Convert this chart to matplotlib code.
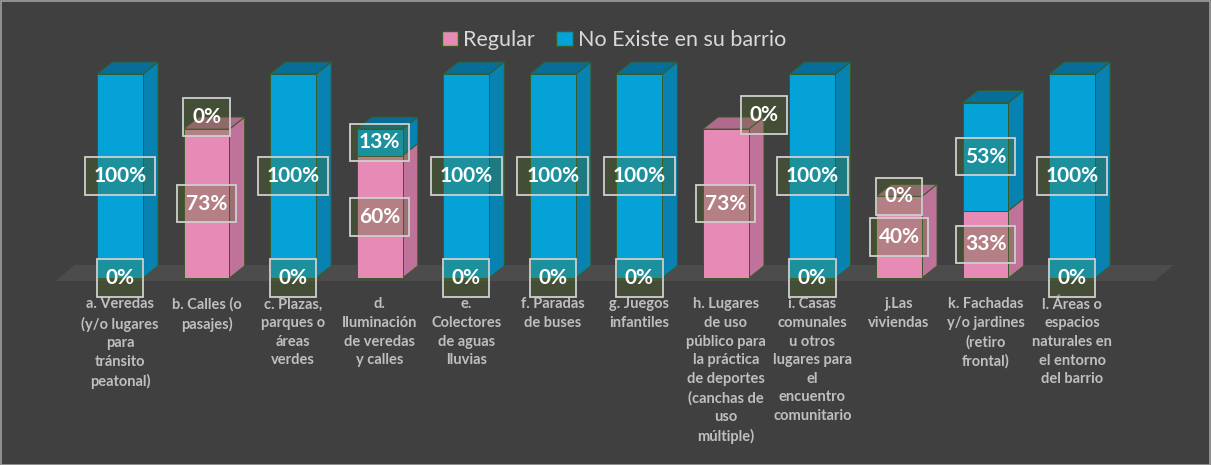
import matplotlib.pyplot as plt
from matplotlib.patches import Polygon, Rectangle, Patch

plt.rcParams['font.family'] = ['Lato', 'DejaVu Sans']

categories = [
    "a. Veredas\n(y/o lugares\npara\ntránsito\npeatonal)",
    "b. Calles (o\npasajes)",
    "c. Plazas,\nparques o\náreas\nverdes",
    "d.\nIluminación\nde veredas\ny calles",
    "e.\nColectores\nde aguas\nlluvias",
    "f. Paradas\nde buses",
    "g. Juegos\ninfantiles",
    "h. Lugares\nde uso\npúblico para\nla práctica\nde deportes\n(canchas de\nuso\nmúltiple)",
    "i. Casas\ncomunales\nu otros\nlugares para\nel\nencuentro\ncomunitario",
    "j.Las\nviviendas",
    "k. Fachadas\ny/o jardines\n(retiro\nfrontal)",
    "l. Áreas o\nespacios\nnaturales en\nel entorno\ndel barrio",
]
regular = [0, 73, 0, 60, 0, 0, 0, 73, 0, 40, 33, 0]
no_existe = [100, 0, 100, 13, 100, 100, 100, 0, 100, 0, 53, 100]
series_names = ["Regular", "No Existe en su barrio"]

# colours: front, side, top
pink = ("#e68bb6", "#c0739a", "#b06a8e")
blue = ("#05a2d8", "#0882b0", "#076f97")
bg = "#404040"
edge = "#3a5a28"

W = 0.53      # bar width (category units)
DX = 0.175    # depth offset x
DY = 5.9      # depth offset y (percent units)

fig = plt.figure(figsize=(12.11, 4.65), dpi=100)
fig.patch.set_facecolor(bg)
ax = fig.add_axes([0, 0, 1, 1])
ax.set_facecolor(bg)
ax.set_xlim(-1.3865, 12.605)
ax.set_ylim(-91.67, 136.27)
ax.axis('off')

# floor
x0, x1 = -0.75, 11.95
ax.add_patch(Polygon([(x0, -1.5), (x1, -1.5), (x1 + DX * 1.3, DY + 0.5), (x0 + DX * 1.3, DY + 0.5)],
                     closed=True, facecolor="#4c4c4c", edgecolor="none", zorder=1))


def box3d(xc, y0, h, cols, top=True):
    xl, xr = xc - W / 2, xc + W / 2
    y1 = y0 + h
    ax.add_patch(Polygon([(xr, y0), (xr + DX, y0 + DY), (xr + DX, y1 + DY), (xr, y1)],
                         closed=True, facecolor=cols[1], edgecolor=edge, lw=0.7, zorder=3))
    ax.add_patch(Rectangle((xl, y0), W, h, facecolor=cols[0], edgecolor=edge, lw=0.7, zorder=4))
    if top:
        ax.add_patch(Polygon([(xl, y1), (xr, y1), (xr + DX, y1 + DY), (xl + DX, y1 + DY)],
                             closed=True, facecolor=cols[2], edgecolor=edge, lw=0.7, zorder=4))


lbl_box = dict(boxstyle="square,pad=0.42", facecolor=(0.3, 0.42, 0.12, 0.32),
               edgecolor="#cfcfcf", lw=1.3)

# nudges for labels Excel moved (category index, series) -> (dx, dy)
nudge = {(7, 1): (0.44, 7), (1, 1): (0, 6)}

for i, (r, n) in enumerate(zip(regular, no_existe)):
    if r > 0:
        box3d(i, 0, r, pink, top=(n == 0))
    if n > 0:
        box3d(i, r, n, blue, top=True)
    for s, (base, v) in enumerate([(0, r), (r, n)]):
        dx, dy = nudge.get((i, s), (0, 0))
        yc = base + v / 2 if v > 0 else base
        ax.text(i + dx, yc + dy, f"{v}%", ha='center', va='center', color='white',
                fontsize=15, fontweight='bold', bbox=lbl_box, zorder=10)
    ax.text(i, -9.5, categories[i], ha='center', va='top', color='#bfbfbf',
            fontsize=10.5, fontweight='bold', linespacing=1.42, zorder=5)

handles = [Patch(facecolor=pink[0], edgecolor=edge), Patch(facecolor=blue[0], edgecolor=edge)]
fig.legend(handles, series_names, loc='center', bbox_to_anchor=(0.507, 0.914), ncol=2,
           frameon=False, fontsize=15.5, labelcolor='#d9d9d9', handlelength=0.75,
           handleheight=0.75, handletextpad=0.25, columnspacing=1.0)

fig.add_artist(Rectangle((0.0008, 0.001), 0.9984, 0.997, transform=fig.transFigure,
                         fill=False, edgecolor="#a0a0a0", lw=1.2))

fig.savefig("out.png", dpi=100, facecolor=bg)
